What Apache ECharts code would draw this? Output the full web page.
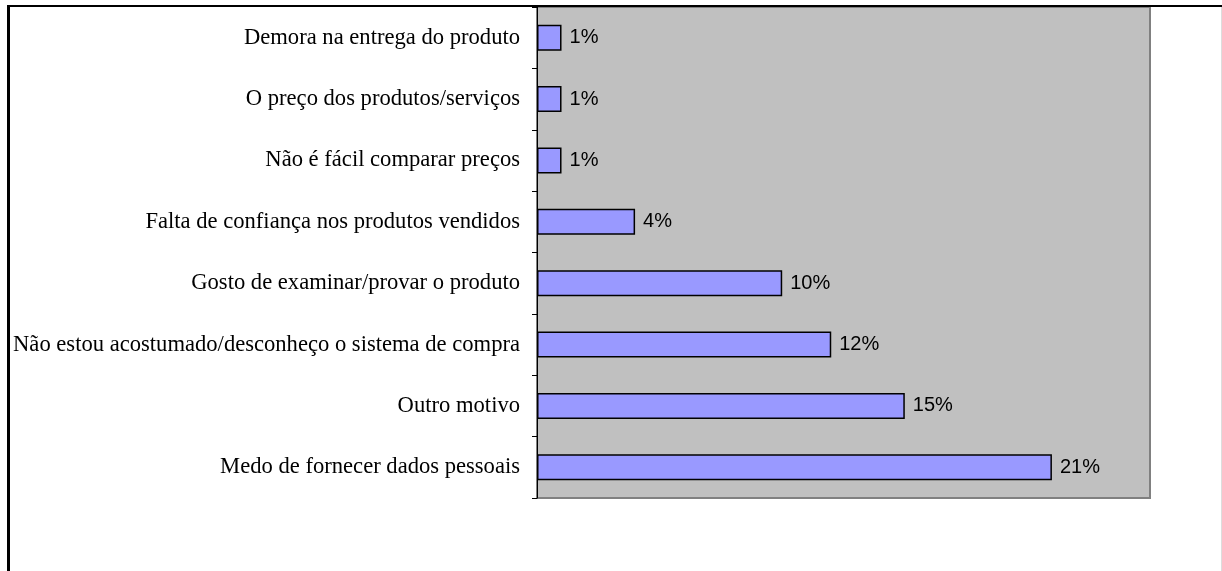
<!DOCTYPE html>
<html>
<head>
<meta charset="utf-8">
<title>Motivos</title>
<script src="https://cdn.jsdelivr.net/npm/echarts@6/dist/echarts.min.js"></script>
<style>
  html, body { margin: 0; padding: 0; background: #fff; }
  #chart { width: 1222px; height: 571px; }
</style>
</head>
<body>
<div id="chart"></div>
<script>
// motivos (de cima para baixo)
const categories = [
  'Demora na entrega do produto',
  'O preço dos produtos/serviços',
  'Não é fácil comparar preços',
  'Falta de confiança nos produtos vendidos',
  'Gosto de examinar/provar o produto',
  'Não estou acostumado/desconheço o sistema de compra',
  'Outro motivo',
  'Medo de fornecer dados pessoais'
];
const values = [1, 1, 1, 4, 10, 12, 15, 21];

let myChart = echarts.init(document.getElementById('chart'));
myChart.setOption({
  animation: false,
  grid: {
    left: 537,
    top: 7,
    width: 613,
    height: 491,
    show: true,
    backgroundColor: '#C0C0C0',
    borderColor: '#808080',
    borderWidth: 2
  },
  xAxis: {
    type: 'value',
    min: 0,
    max: 25,
    show: false
  },
  yAxis: {
    type: 'category',
    data: categories,
    inverse: true,
    axisLine: { lineStyle: { color: '#000', width: 1 } },
    axisTick: { show: true, length: 5, lineStyle: { color: '#000' } },
    axisLabel: {
      margin: 17,
      color: '#000',
      fontFamily: 'Liberation Serif',
      fontSize: 22.6,
      padding: [3, 0, 0, 0]
    }
  },
  series: [{
    type: 'bar',
    data: values,
    barWidth: 26,
    itemStyle: { color: '#9999FF', borderColor: '#000', borderWidth: 1.5 },
    label: {
      show: true,
      position: 'right',
      distance: 8,
      formatter: '{c}%',
      color: '#000',
      fontFamily: 'Liberation Sans',
      fontSize: 20
    }
  }],
  graphic: [
    // moldura
    { type: 'line', shape: { x1: 7, y1: 6, x2: 1222, y2: 6 }, style: { stroke: '#000', lineWidth: 2 }, z: 100 },
    { type: 'line', shape: { x1: 8.5, y1: 5, x2: 8.5, y2: 571 }, style: { stroke: '#000', lineWidth: 3 }, z: 100 },
    { type: 'line', shape: { x1: 1221.5, y1: 7, x2: 1221.5, y2: 571 }, style: { stroke: '#DDD', lineWidth: 1 }, z: 100 }
  ]
});
</script>
</body>
</html>
